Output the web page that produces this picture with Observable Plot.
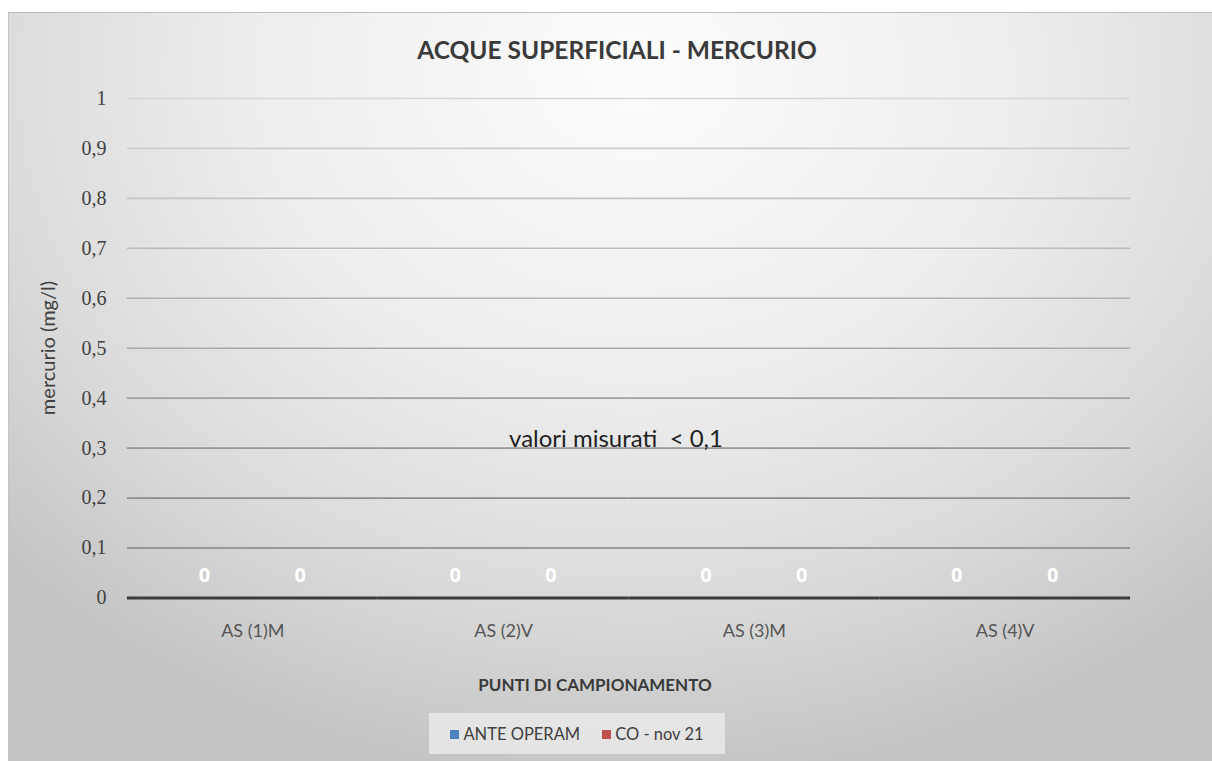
<!DOCTYPE html>
<html><head><meta charset="utf-8">
<script src="https://cdn.jsdelivr.net/npm/d3@7"></script>
<script src="https://cdn.jsdelivr.net/npm/@observablehq/plot@0.6"></script>
<style>
html,body{margin:0;padding:0;background:#fff;width:1212px;height:761px;overflow:hidden;font-family:Lato,"Open Sans",sans-serif;}
#frame{position:absolute;left:8px;top:12px;width:1204px;height:749px;
 background:radial-gradient(ellipse 72% 95% at 52% 8%, #fcfcfc 0%, #ededed 45%, #dadada 75%, #c4c4c4 100%);
 border-top:1px solid #bdbdbd;border-left:1px solid #c4c4c4;box-sizing:border-box;}
#chart{position:absolute;left:0;top:0;}
#chart g[aria-label^="y-axis"] text{font-family:"Liberation Serif","DejaVu Serif",serif;font-size:20px;fill:#404040;}
#chart g[aria-label^="fx-axis"] text{font-family:Lato,sans-serif;font-size:18px;fill:#555;}
#chart g[aria-label="text"] text{font-size:20px;font-weight:bold;}
.t{position:absolute;white-space:nowrap;color:#404040;line-height:1.2;}
#title{left:608px;top:22px;transform:translateX(-50%);font-weight:bold;font-size:24.5px;color:#3a3a3a;}
#ytitle{left:38px;top:335px;transform:translate(-50%,-50%) rotate(-90deg);font-size:20px;}
#note{left:607px;top:411px;transform:translateX(-50%);font-size:24px;color:#222;}
#xtitle{left:586px;top:662px;transform:translateX(-50%);font-size:17px;font-weight:bold;color:#3a3a3a;}
#legend{position:absolute;left:420px;top:700px;width:296px;height:41px;background:rgba(240,240,240,0.7);
 display:flex;align-items:center;justify-content:center;gap:22px;font-size:16.5px;color:#404040;}
#legend span.sw{display:inline-block;width:9px;height:9px;margin-right:4px;vertical-align:middle;position:relative;top:-1px;}
</style></head>
<body>
<div id="frame">
  <div id="chart"></div>
  <div class="t" id="title">ACQUE SUPERFICIALI - MERCURIO</div>
  <div class="t" id="ytitle">mercurio (mg/l)</div>
  <div class="t" id="note">valori misurati&nbsp; &lt; 0,1</div>
  <div class="t" id="xtitle">PUNTI DI CAMPIONAMENTO</div>
  <div id="legend"></div>
</div>
<script>
const categories = ["AS (1)M", "AS (2)V", "AS (3)M", "AS (4)V"];
const series = ["ANTE OPERAM", "CO - nov 21"];
const anteOperam = [0, 0, 0, 0];
const coNov21 = [0, 0, 0, 0];
const yTicks = [0, 0.1, 0.2, 0.3, 0.4, 0.5, 0.6, 0.7, 0.8, 0.9, 1];

const seriesColors = {"ANTE OPERAM": "#4F81BD", "CO - nov 21": "#C0504D"};
const seriesValues = [anteOperam, coNov21];

const data = [];
categories.forEach((c, i) => series.forEach((s, j) => data.push({cat: c, series: s, value: seriesValues[j][i]})));

const gridColor = d3.interpolateRgb("#d6d6d6", "#7c7c7c");
const fmt = v => String(v).replace(".", ",");

const chart = Plot.plot({
  width: 1204, height: 640,
  marginTop: 85, marginBottom: 55, marginLeft: 117, marginRight: 82,
  style: {background: "transparent", overflow: "visible"},
  fx: {domain: categories, padding: 0, label: null, axis: "bottom", tickSize: 0, tickPadding: 26},
  x: {domain: series, axis: null, paddingInner: 0.1, paddingOuter: 0.35},
  y: {domain: [0, 1], ticks: yTicks, tickFormat: fmt, tickSize: 0, tickPadding: 21, label: null},
  color: {type: "identity"},
  marks: [
    Plot.ruleY(yTicks.filter(v => v > 0), {stroke: d => gridColor(1 - d), strokeWidth: 1.6}),
    Plot.barY(data, {fx: "cat", x: "series", y: "value", fill: d => seriesColors[d.series]}),
    Plot.ruleY([0], {stroke: "#3b3b3b", strokeWidth: 3}),
    Plot.text(data, {fx: "cat", x: "series", y: "value", text: d => fmt(d.value), fill: "white",
                     fontWeight: "bold", fontSize: 20, dy: -22})
  ]
});
document.getElementById("chart").appendChild(chart);

const lg = document.getElementById("legend");
series.forEach(s => {
  const it = document.createElement("div");
  it.innerHTML = `<span class="sw" style="background:${seriesColors[s]}"></span>${s}`;
  lg.appendChild(it);
});
</script>
</body></html>
